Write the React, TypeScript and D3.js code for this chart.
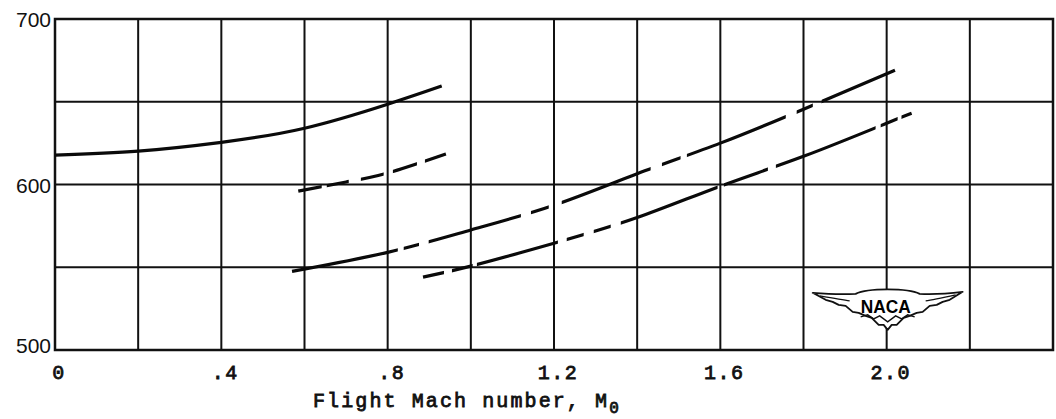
import React, { useEffect, useRef } from 'react';
import * as d3 from 'd3';

// curve values (Mach number vs. value)
const mach1 = [0, 0.2, 0.4, 0.6, 0.8, 0.93];
const value1 = [617.8, 620.2, 625.5, 634, 648.5, 659.5];
const mach2 = [0.585, 0.7, 0.8, 0.94];
const value2 = [596, 601.5, 607, 618.5];
const mach3 = [0.57, 0.8, 1.0, 1.2, 1.4, 1.6, 1.8, 2.02];
const value3 = [547.5, 559, 572.5, 587.5, 606.5, 625, 645.5, 669];
const mach4 = [0.885, 1.0, 1.2, 1.4, 1.6, 1.8, 2.0, 2.06];
const value4 = [544, 550.7, 564.5, 580, 599, 617, 637, 643];

const xTickLabels = ['0', '.4', '.8', '1.2', '1.6', '2.0'];
const xTickValues = [0, 0.4, 0.8, 1.2, 1.6, 2.0];
const yTickValues = [500, 600, 700];
const xGrid = d3.range(0, 2.41, 0.2);
const yGrid = [500, 550, 600, 650, 700];

// inked stretches of each line (Mach ranges) - the hand drawn dash pattern
const ink1: [number, number][] = [[0, 0.93]];
const ink2: [number, number][] = [[0.585, 0.639], [0.656, 0.704], [0.738, 0.788], [0.815, 0.868], [0.892, 0.942]];
const ink3: [number, number][] = [[0.57, 0.822], [0.841, 0.873], [0.901, 1.118], [1.147, 1.185], [1.221, 1.43], [1.462, 1.502], [1.522, 1.755], [1.786, 1.82], [1.846, 2.02]];
const ink4: [number, number][] = [[0.885, 0.933], [0.957, 1.002], [1.017, 1.207], [1.233, 1.269], [1.298, 1.334], [1.363, 1.591], [1.611, 1.712], [1.736, 1.971], [1.988, 2.024], [2.038, 2.06]];

const W = 1056;
const H = 419;

const App: React.FC = () => {
  const ref = useRef<SVGSVGElement>(null);

  useEffect(() => {
    if (!ref.current) return;
    const svg = d3.select(ref.current);
    svg.selectAll('*').remove();

    const x = d3.scaleLinear().domain([0, 2.4]).range([55, 1053]);
    const y = d3.scaleLinear().domain([500, 700]).range([350, 19]);

    svg.append('rect').attr('width', W).attr('height', H).attr('fill', 'white');

    // grid
    const g = svg.append('g').attr('stroke', '#111').attr('stroke-width', 2);
    xGrid.forEach(v => {
      g.append('line').attr('x1', x(v)).attr('x2', x(v)).attr('y1', y(500)).attr('y2', y(700));
    });
    yGrid.forEach(v => {
      g.append('line').attr('x1', x(0)).attr('x2', x(2.4)).attr('y1', y(v)).attr('y2', y(v));
    });
    svg.append('rect')
      .attr('x', x(0)).attr('y', y(700))
      .attr('width', x(2.4) - x(0)).attr('height', y(500) - y(700))
      .attr('fill', 'none').attr('stroke', '#111').attr('stroke-width', 2.5);

    // curves
    const line = d3.line<[number, number]>()
      .x(d => x(d[0]))
      .y(d => y(d[1]))
      .curve(d3.curveNatural);

    const defs = svg.append('defs');
    const curves = [
      { m: mach1, v: value1, ink: ink1 },
      { m: mach2, v: value2, ink: ink2 },
      { m: mach3, v: value3, ink: ink3 },
      { m: mach4, v: value4, ink: ink4 },
    ];
    curves.forEach((c, i) => {
      const clip = defs.append('clipPath').attr('id', `ink${i}`);
      c.ink.forEach(([a, b]) => {
        clip.append('rect').attr('x', x(a) - 1).attr('y', 0).attr('width', x(b) - x(a) + 2).attr('height', H);
      });
      svg.append('path')
        .datum(c.m.map((m, k) => [m, c.v[k]] as [number, number]))
        .attr('d', line)
        .attr('fill', 'none')
        .attr('stroke', '#0a0a0a')
        .attr('stroke-width', 3.2)
        .attr('clip-path', `url(#ink${i})`);
    });

    // NACA emblem
    const cx = x(2.0) + 1;
    const cy = y(528.5);
    const logo = svg.append('g').attr('transform', `translate(${cx},${cy})`);
    logo.append('path')
      .attr('d', 'M-75,-10 Q-50,-8 -32,-9 C-20,-15 20,-15 32,-9 Q50,-8 75,-11 ' +
        'L62,-3 L55,-1 L49,2 L42,3 L35,9 L29,10 L22,13 L16,15 L9,22 L4,22 L0,27 ' +
        'L-4,22 L-9,22 L-16,15 L-22,13 L-29,10 L-35,9 L-42,3 L-49,2 L-55,-1 L-62,-3 Z')
      .attr('fill', 'white')
      .attr('stroke', '#111')
      .attr('stroke-width', 1.8)
      .attr('stroke-linejoin', 'round');
    logo.append('path')
      .attr('d', 'M-68,-7 Q-45,-3 -38,-2 M68,-8 Q45,-3 38,-2 M-27,14 L-20,12 L-14,16 L-8,13 L0,19 L8,13 L14,16 L20,12 L27,14')
      .attr('fill', 'none')
      .attr('stroke', '#111')
      .attr('stroke-width', 1.4);
    logo.append('text')
      .attr('x', -2)
      .attr('y', 10)
      .attr('text-anchor', 'middle')
      .attr('textLength', 50)
      .attr('lengthAdjust', 'spacingAndGlyphs')
      .style('font-family', '"Liberation Sans", Arial, sans-serif')
      .style('font-size', '19px')
      .style('font-weight', 'bold')
      .text('NACA');

    // y tick labels
    yTickValues.forEach(v => {
      svg.append('text')
        .attr('x', 51)
        .attr('y', Math.min(y(v) + 8, 353))
        .attr('text-anchor', 'end')
        .style('font-family', '"Liberation Sans", Arial, sans-serif')
        .style('font-size', '21px')
        .attr('fill', '#111')
        .text(String(v));
    });

    // x tick labels
    xTickValues.forEach((v, i) => {
      svg.append('text')
        .attr('x', x(v) + 4)
        .attr('y', 379)
        .attr('text-anchor', 'middle')
        .style('font-family', '"Liberation Mono", "Courier New", monospace')
        .style('font-size', '20px')
        .style('letter-spacing', '1.5px')
        .attr('fill', '#111')
        .attr('stroke', '#111')
        .attr('stroke-width', 0.8)
        .text(xTickLabels[i]);
    });

    // axis title
    const title = svg.append('text')
      .attr('x', 313)
      .attr('y', 407)
      .style('font-family', '"Liberation Mono", "Courier New", monospace')
      .style('font-size', '20px')
      .style('letter-spacing', '2.1px')
      .attr('fill', '#111')
      .attr('stroke', '#111')
      .attr('stroke-width', 0.8);
    title.append('tspan').text('Flight Mach number, M');
    title.append('tspan')
      .attr('dy', 6)
      .style('font-size', '16px')
      .text('0');
  }, []);

  return (
    <svg
      ref={ref}
      width={W}
      height={H}
      style={{ position: 'absolute', left: 0, top: 0, display: 'block' }}
    />
  );
};

export default App;
